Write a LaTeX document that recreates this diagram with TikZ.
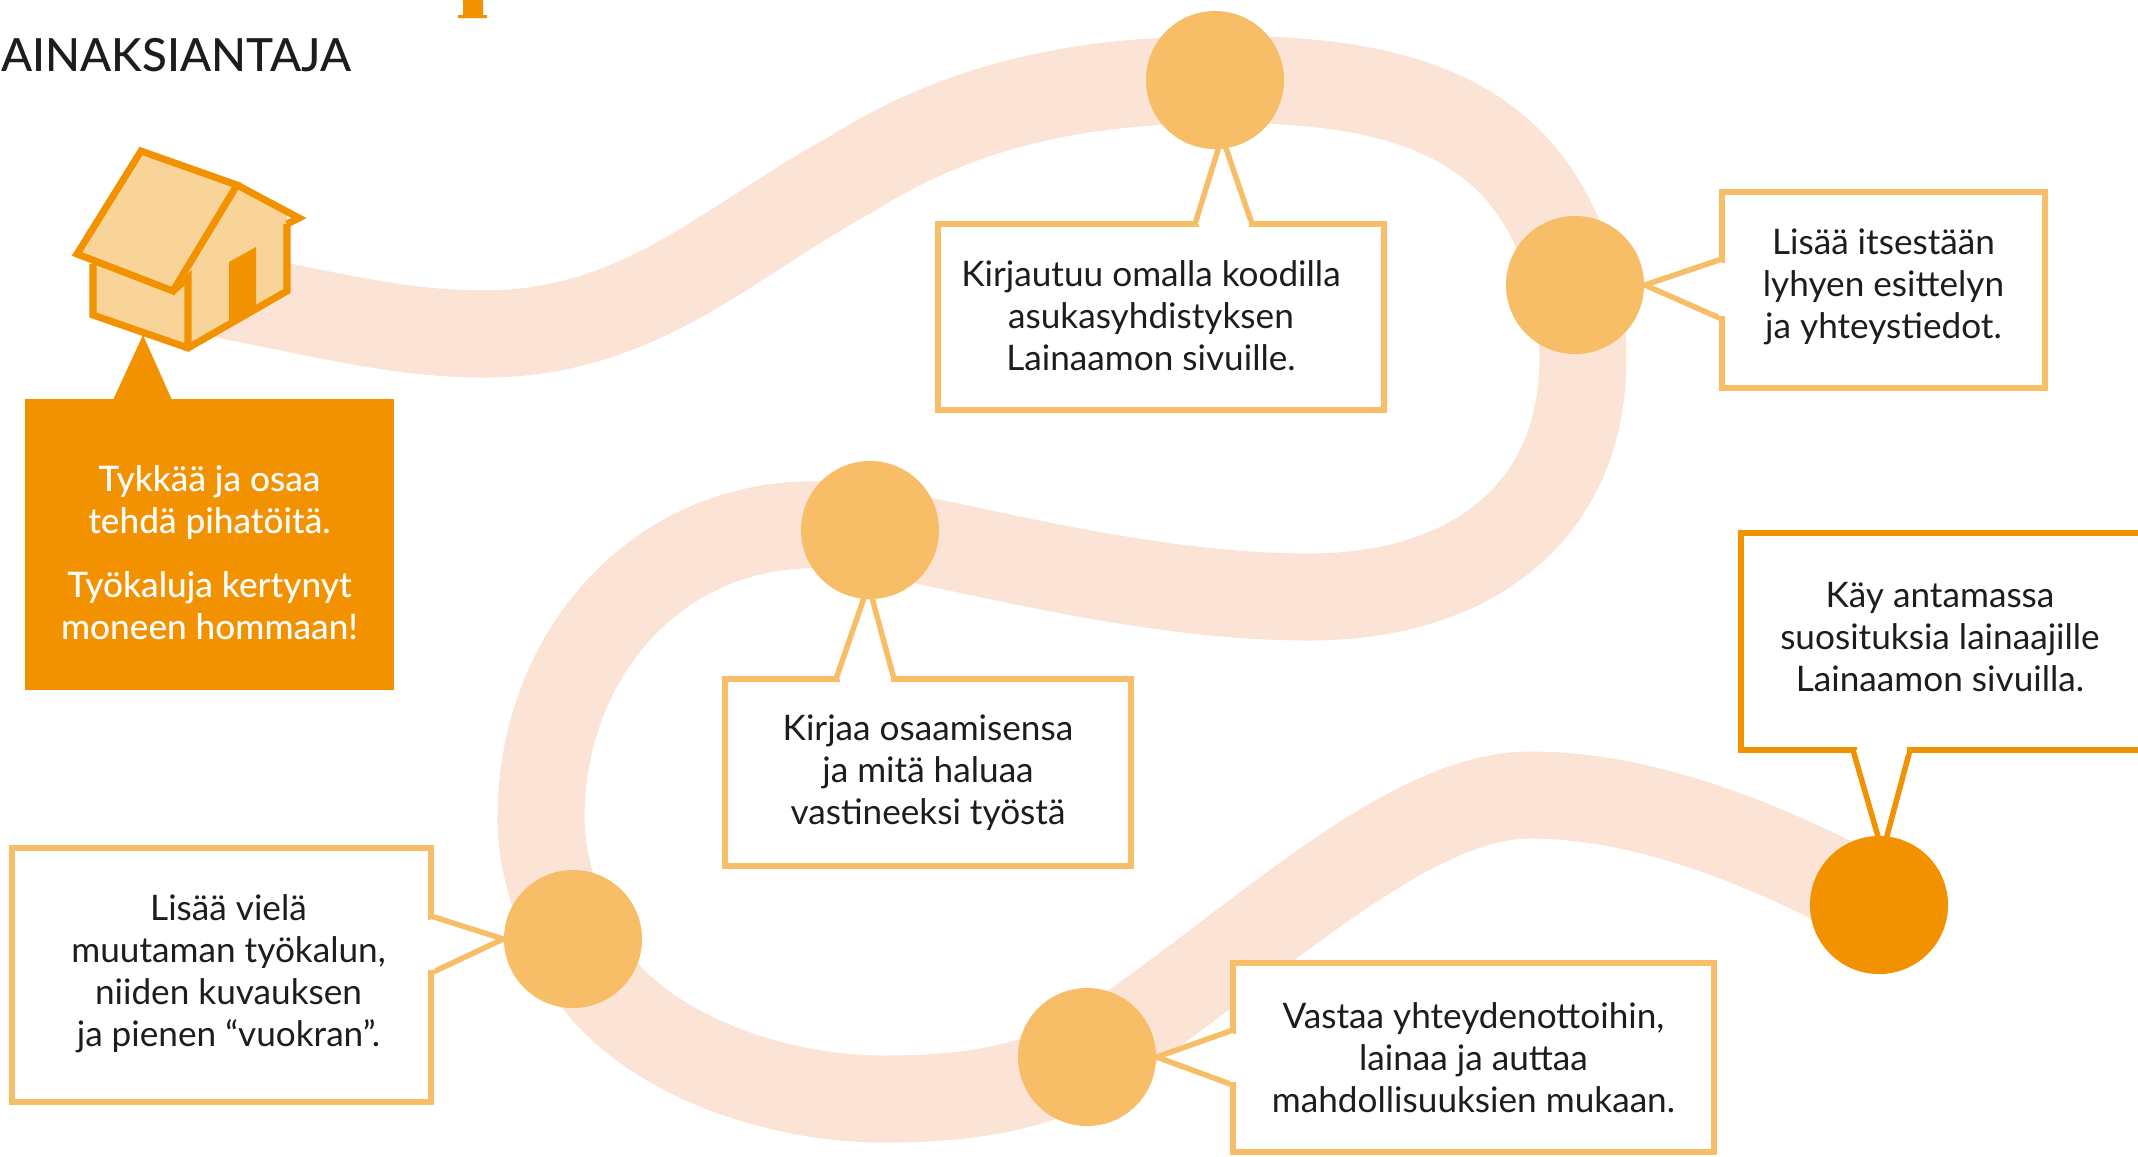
\documentclass[tikz,border=0pt]{standalone}
\usepackage{fontspec}
\usetikzlibrary{calc}
\setmainfont{Lato}
\newfontfamily\latomed{Lato Medium}
\definecolor{hero}{HTML}{F39200}
\definecolor{stopcol}{HTML}{F7BE67}
\definecolor{housecol}{HTML}{F9D498}
\definecolor{roadcol}{HTML}{FBE4D5}
\definecolor{inkcol}{HTML}{1D1D1B}
\pgfdeclarelayer{front}
\pgfsetlayers{main,front}
\begin{document}
\begin{tikzpicture}[x=.01cm,y=-.01cm,
    stopdot/.style={circle,fill=stopcol,minimum size=1.38cm,inner sep=0pt},
    infobox/.style={draw=stopcol,fill=white,line width=.055cm,text=inkcol,align=center,inner sep=0pt,font=\fontsize{10}{11.95}\selectfont},
    tail/.style={line width=.055cm,fill=white,miter limit=2},
    gap/.style={white,line width=.07cm,shorten <=.035cm,shorten >=.035cm},
    wall/.style={hero,line width=.07cm,line join=miter}]
  \useasboundingbox (0,0) rectangle (2138,1156);
  \clip (0,0) rectangle (2138,1156);
  \draw[roadcol,line width=.87cm] (210,292) .. controls (330,315) and (400,334) .. (484,334)
    .. controls (640,334) and (730,240) .. (850,175) .. controls (960,105) and (1080,80) .. (1215,80)
    .. controls (1450,75) and (1540,150) .. (1575,285) .. controls (1615,480) and (1500,597) .. (1309,597)
    .. controls (1150,597) and (980,550) .. (870,530) .. controls (680,495) and (541,640) .. (541,818)
    .. controls (541,860) and (555,905) .. (573,939) .. controls (610,1040) and (760,1100) .. (886,1099)
    .. controls (960,1099) and (1030,1090) .. (1087,1057) .. controls (1240,960) and (1400,795) .. (1530,795)
    .. controls (1640,795) and (1760,840) .. (1879,905);
  \fill[hero] (463,0) rectangle (483,16) (458,15) rectangle (487,18);
  \node[anchor=east,inner sep=0pt,text=inkcol,font=\fontsize{13}{15}\latomed] (title) at (352,55) {LAINAKSIANTAJA};
  \node[fill=hero,text=white,align=center,minimum width=3.69cm,minimum height=2.91cm,inner sep=0pt,font=\fontsize{10}{11.95}\latomed] (hero) at (209.5,544.5) {\rule{0pt}{.42cm}Tykkää ja osaa\\tehdä pihatöitä.\\[.22cm]Työkaluja kertynyt\\moneen hommaan!};
  \coordinate (h0) at (143,335);
  \coordinate (h1) at (113,400);
  \coordinate (h2) at (172,400);
  \fill[hero] (h1) -- (h0) -- (h2) -- cycle;
  \fill[housecol] (93,264) -- (93,315) -- (188,348) -- (287,291) -- (287,210) -- (237,185) -- (141,151) -- (77,254) -- cycle;
  \draw[wall] (93,264) -- (93,315) -- (188,348) -- (287,291) -- (287,224);
  \draw[wall] (188,348) -- (188,278) -- (173,291);
  \draw[wall,fill=housecol] (141,151) -- (237,185) -- (173,291) -- (77,254) -- cycle;
  \draw[wall] (237,185) -- (299,218) -- (287,224);
  \fill[hero] (229,262) -- (256,247) -- (256,305) -- (229,322) -- cycle;
  \begin{pgfonlayer}{front}
    \node[stopdot] (c1) at (1215,80) {};
    \node[stopdot] (c2) at (1575,285) {};
    \node[stopdot] (c3) at (870,530) {};
    \node[stopdot] (c4) at (573,939) {};
    \node[stopdot] (c5) at (1087,1057) {};
    \node[stopdot,fill=hero] (c6) at (1879,905) {};
  \end{pgfonlayer}
  \node[infobox,minimum width=4.46cm,minimum height=1.86cm] (b1) at (1161,317) {\begin{tabular}{@{}c@{}}\rule{0pt}{.36cm}Kirjautuu omalla koodilla\\asukasyhdistyksen\\Lainaamon sivuille.\end{tabular}\hspace{.2cm}};
  \node[infobox,minimum width=3.23cm,minimum height=1.96cm] (b2) at (1883.5,290) {Lisää itsestään\\lyhyen esittelyn\\ja yhteystiedot.\rule[-.13cm]{0pt}{0pt}};
  \node[infobox,minimum width=4.06cm,minimum height=1.87cm] (b3) at (928,772.5) {Kirjaa osaamisensa\\ja mitä haluaa\\vastineeksi työstä};
  \node[infobox,minimum width=4.19cm,minimum height=2.54cm] (b4) at (221.5,975) {\hspace{.14cm}\begin{tabular}{@{}c@{}}Lisää vielä\\muutaman työkalun,\\niiden kuvauksen\\ja pienen “vuokran”.\end{tabular}};
  \node[infobox,minimum width=4.81cm,minimum height=1.89cm] (b5) at (1473.5,1057.5) {Vastaa yhteydenottoihin,\\lainaa ja auttaa\\mahdollisuuksien mukaan.};
  \node[infobox,draw=hero,minimum width=4.09cm,minimum height=2.17cm] (b6) at (1945.5,641.5) {\begin{tabular}{@{}c@{}}Käy antamassa\\suosituksia lainaajille\\Lainaamon sivuilla.\end{tabular}\hspace{.11cm}};
  \coordinate (t1a) at (1195,224);
  \coordinate (t1b) at (1252,224);
  \coordinate (t2a) at (1722,259);
  \coordinate (t2b) at (1722,319);
  \coordinate (t3a) at (836,679);
  \coordinate (t3b) at (894,679);
  \coordinate (t4a) at (431,916);
  \coordinate (t4b) at (431,973);
  \coordinate (t5a) at (1233,1030);
  \coordinate (t5b) at (1233,1085);
  \coordinate (t6a) at (1853,750);
  \coordinate (t6b) at (1910,750);
  \coordinate (t1p) at ($(c1.south)+(7,-13)$);
  \coordinate (t2p) at (c2.east);
  \coordinate (t3p) at ($(c3.south)+(-1.5,-15)$);
  \coordinate (t4p) at (c4.west);
  \coordinate (t5p) at (c5.east);
  \coordinate (t6p) at ($(c6.north)+(3.6,17)$);
  \foreach \n/\col in {1/stopcol,2/stopcol,3/stopcol,4/stopcol,5/stopcol,6/hero} {
    \draw[tail,draw=\col] (t\n a) -- (t\n p) -- (t\n b);
    \draw[gap] (t\n a) -- (t\n b);
  }
\end{tikzpicture}
\end{document}
